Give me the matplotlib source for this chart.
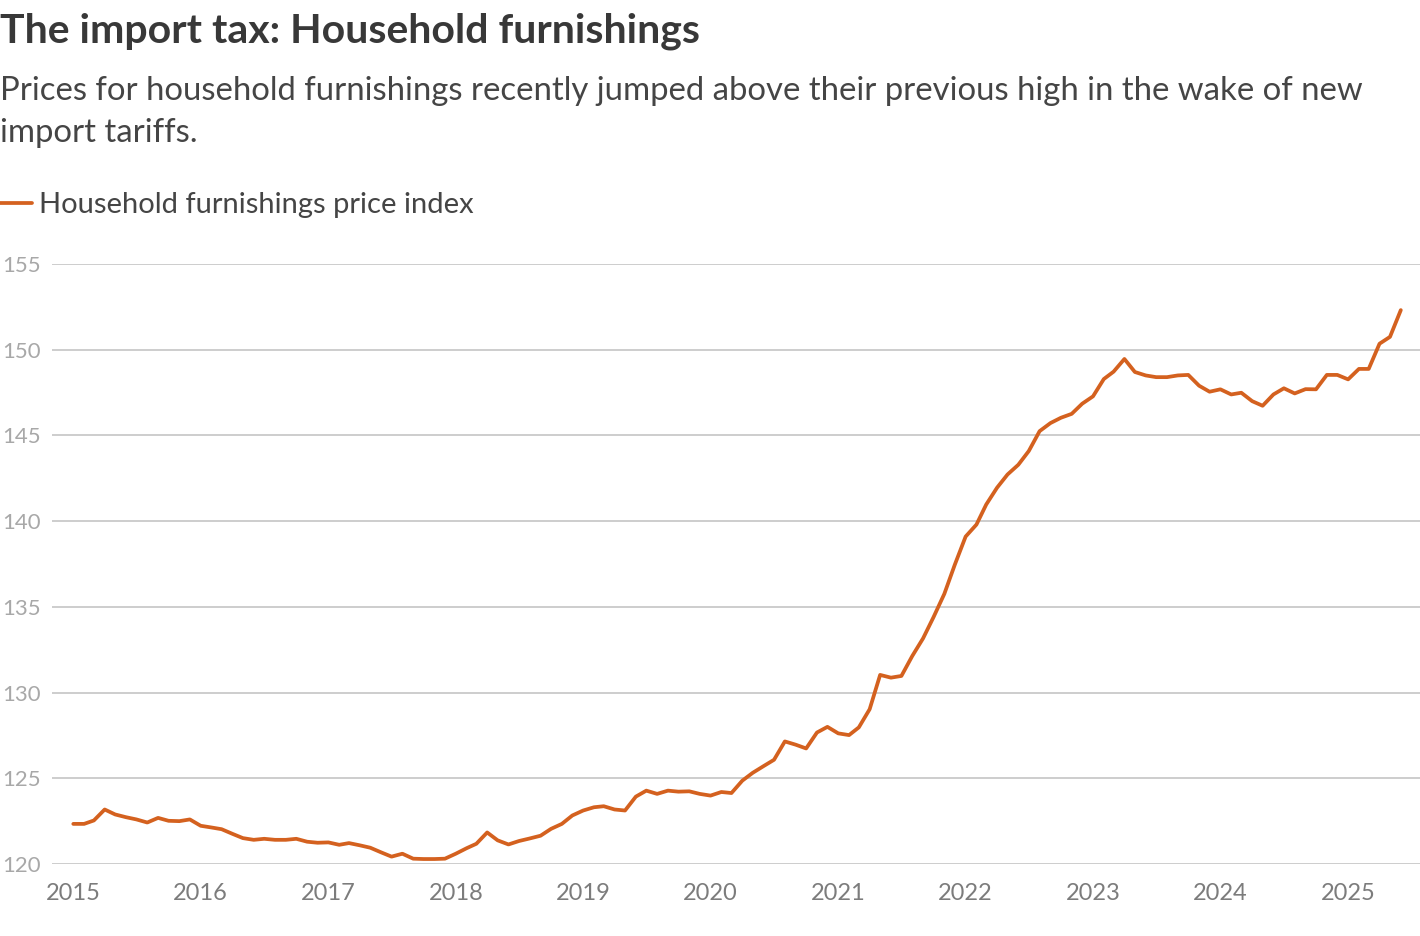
import numpy as np
import pandas as pd
import matplotlib
matplotlib.use("Agg")
import matplotlib.pyplot as plt
import matplotlib.dates as mdates

# monthly household furnishings price index, Jan 2015 - Jun 2025
index_2015 = [122.34, 122.34, 122.54, 123.18, 122.89, 122.73, 122.60, 122.42, 122.69, 122.52, 122.50, 122.60]
index_2016 = [122.23, 122.13, 122.03, 121.76, 121.51, 121.41, 121.47, 121.41, 121.41, 121.47, 121.30, 121.24]
index_2017 = [121.26, 121.12, 121.22, 121.09, 120.95, 120.68, 120.43, 120.60, 120.31, 120.29, 120.29, 120.31]
index_2018 = [120.60, 120.92, 121.18, 121.84, 121.38, 121.14, 121.34, 121.49, 121.65, 122.05, 122.34, 122.83]
index_2019 = [123.12, 123.31, 123.37, 123.18, 123.12, 123.93, 124.28, 124.09, 124.28, 124.22, 124.24, 124.09]
index_2020 = [123.99, 124.20, 124.14, 124.86, 125.32, 125.71, 126.08, 127.15, 126.96, 126.74, 127.67, 128.00]
index_2021 = [127.62, 127.52, 127.97, 129.03, 131.03, 130.87, 130.97, 132.13, 133.16, 134.40, 135.76, 137.46]
index_2022 = [139.10, 139.80, 140.97, 141.95, 142.72, 143.29, 144.09, 145.25, 145.72, 146.03, 146.26, 146.85]
index_2023 = [147.28, 148.29, 148.72, 149.46, 148.70, 148.50, 148.40, 148.40, 148.50, 148.53, 147.90, 147.55]
index_2024 = [147.69, 147.39, 147.49, 147.00, 146.73, 147.39, 147.75, 147.45, 147.70, 147.69, 148.53, 148.53]
index_2025 = [148.27, 148.88, 148.88, 150.35, 150.75, 152.31]

values = (index_2015 + index_2016 + index_2017 + index_2018 + index_2019 + index_2020
          + index_2021 + index_2022 + index_2023 + index_2024 + index_2025)
dates = pd.date_range("2015-01-01", periods=len(values), freq="MS")

y_ticks = [120, 125, 130, 135, 140, 145, 150, 155]

title = "The import tax: Household furnishings"
subtitle = ("Prices for household furnishings recently jumped above their previous high in the wake of new\n"
            "import tariffs.")
series_name = "Household furnishings price index"

line_color = "#d4611f"
plt.rcParams["font.family"] = ["Lato", "DejaVu Sans"]

W, H = 1420, 936
fig = plt.figure(figsize=(W / 100, H / 100), dpi=100)
ax = fig.add_axes([52 / W, 1 - 864 / H, 1 - 52 / W, 600 / H])

ax.plot(dates, values, color=line_color, lw=2.7, label=series_name,
        solid_joinstyle="round", solid_capstyle="round", clip_on=False)

ax.set_ylim(120, 155)
ax.set_yticks(y_ticks)
ax.set_xlim(pd.Timestamp("2014-11-01"), pd.Timestamp("2025-07-26"))
ax.xaxis.set_major_locator(mdates.YearLocator())
ax.xaxis.set_major_formatter(mdates.DateFormatter("%Y"))

ax.grid(axis="y", color="#c9c9c9", lw=1.3)
ax.set_axisbelow(True)
for s in ax.spines.values():
    s.set_visible(False)
ax.tick_params(axis="y", length=0, pad=8, labelsize=16, labelcolor="#a8a8a8")
ax.tick_params(axis="x", length=0, pad=14, labelsize=17, labelcolor="#7c7c7c")

fig.text(0, 1 - 31 / H, title, fontsize=29.5, fontweight="bold", color="#383838",
         ha="left", va="center")
fig.text(0, 1 - 76 / H, subtitle, fontsize=23.7, color="#454545",
         ha="left", va="top", linespacing=1.52)

leg = ax.legend(loc="center left", bbox_to_anchor=(0, 1 - 205 / H),
                bbox_transform=fig.transFigure, frameon=False, fontsize=21,
                handlelength=1.1, handletextpad=0.25, borderaxespad=0, borderpad=0)
for t in leg.get_texts():
    t.set_color("#454545")

fig.savefig("out.png", dpi=100)
